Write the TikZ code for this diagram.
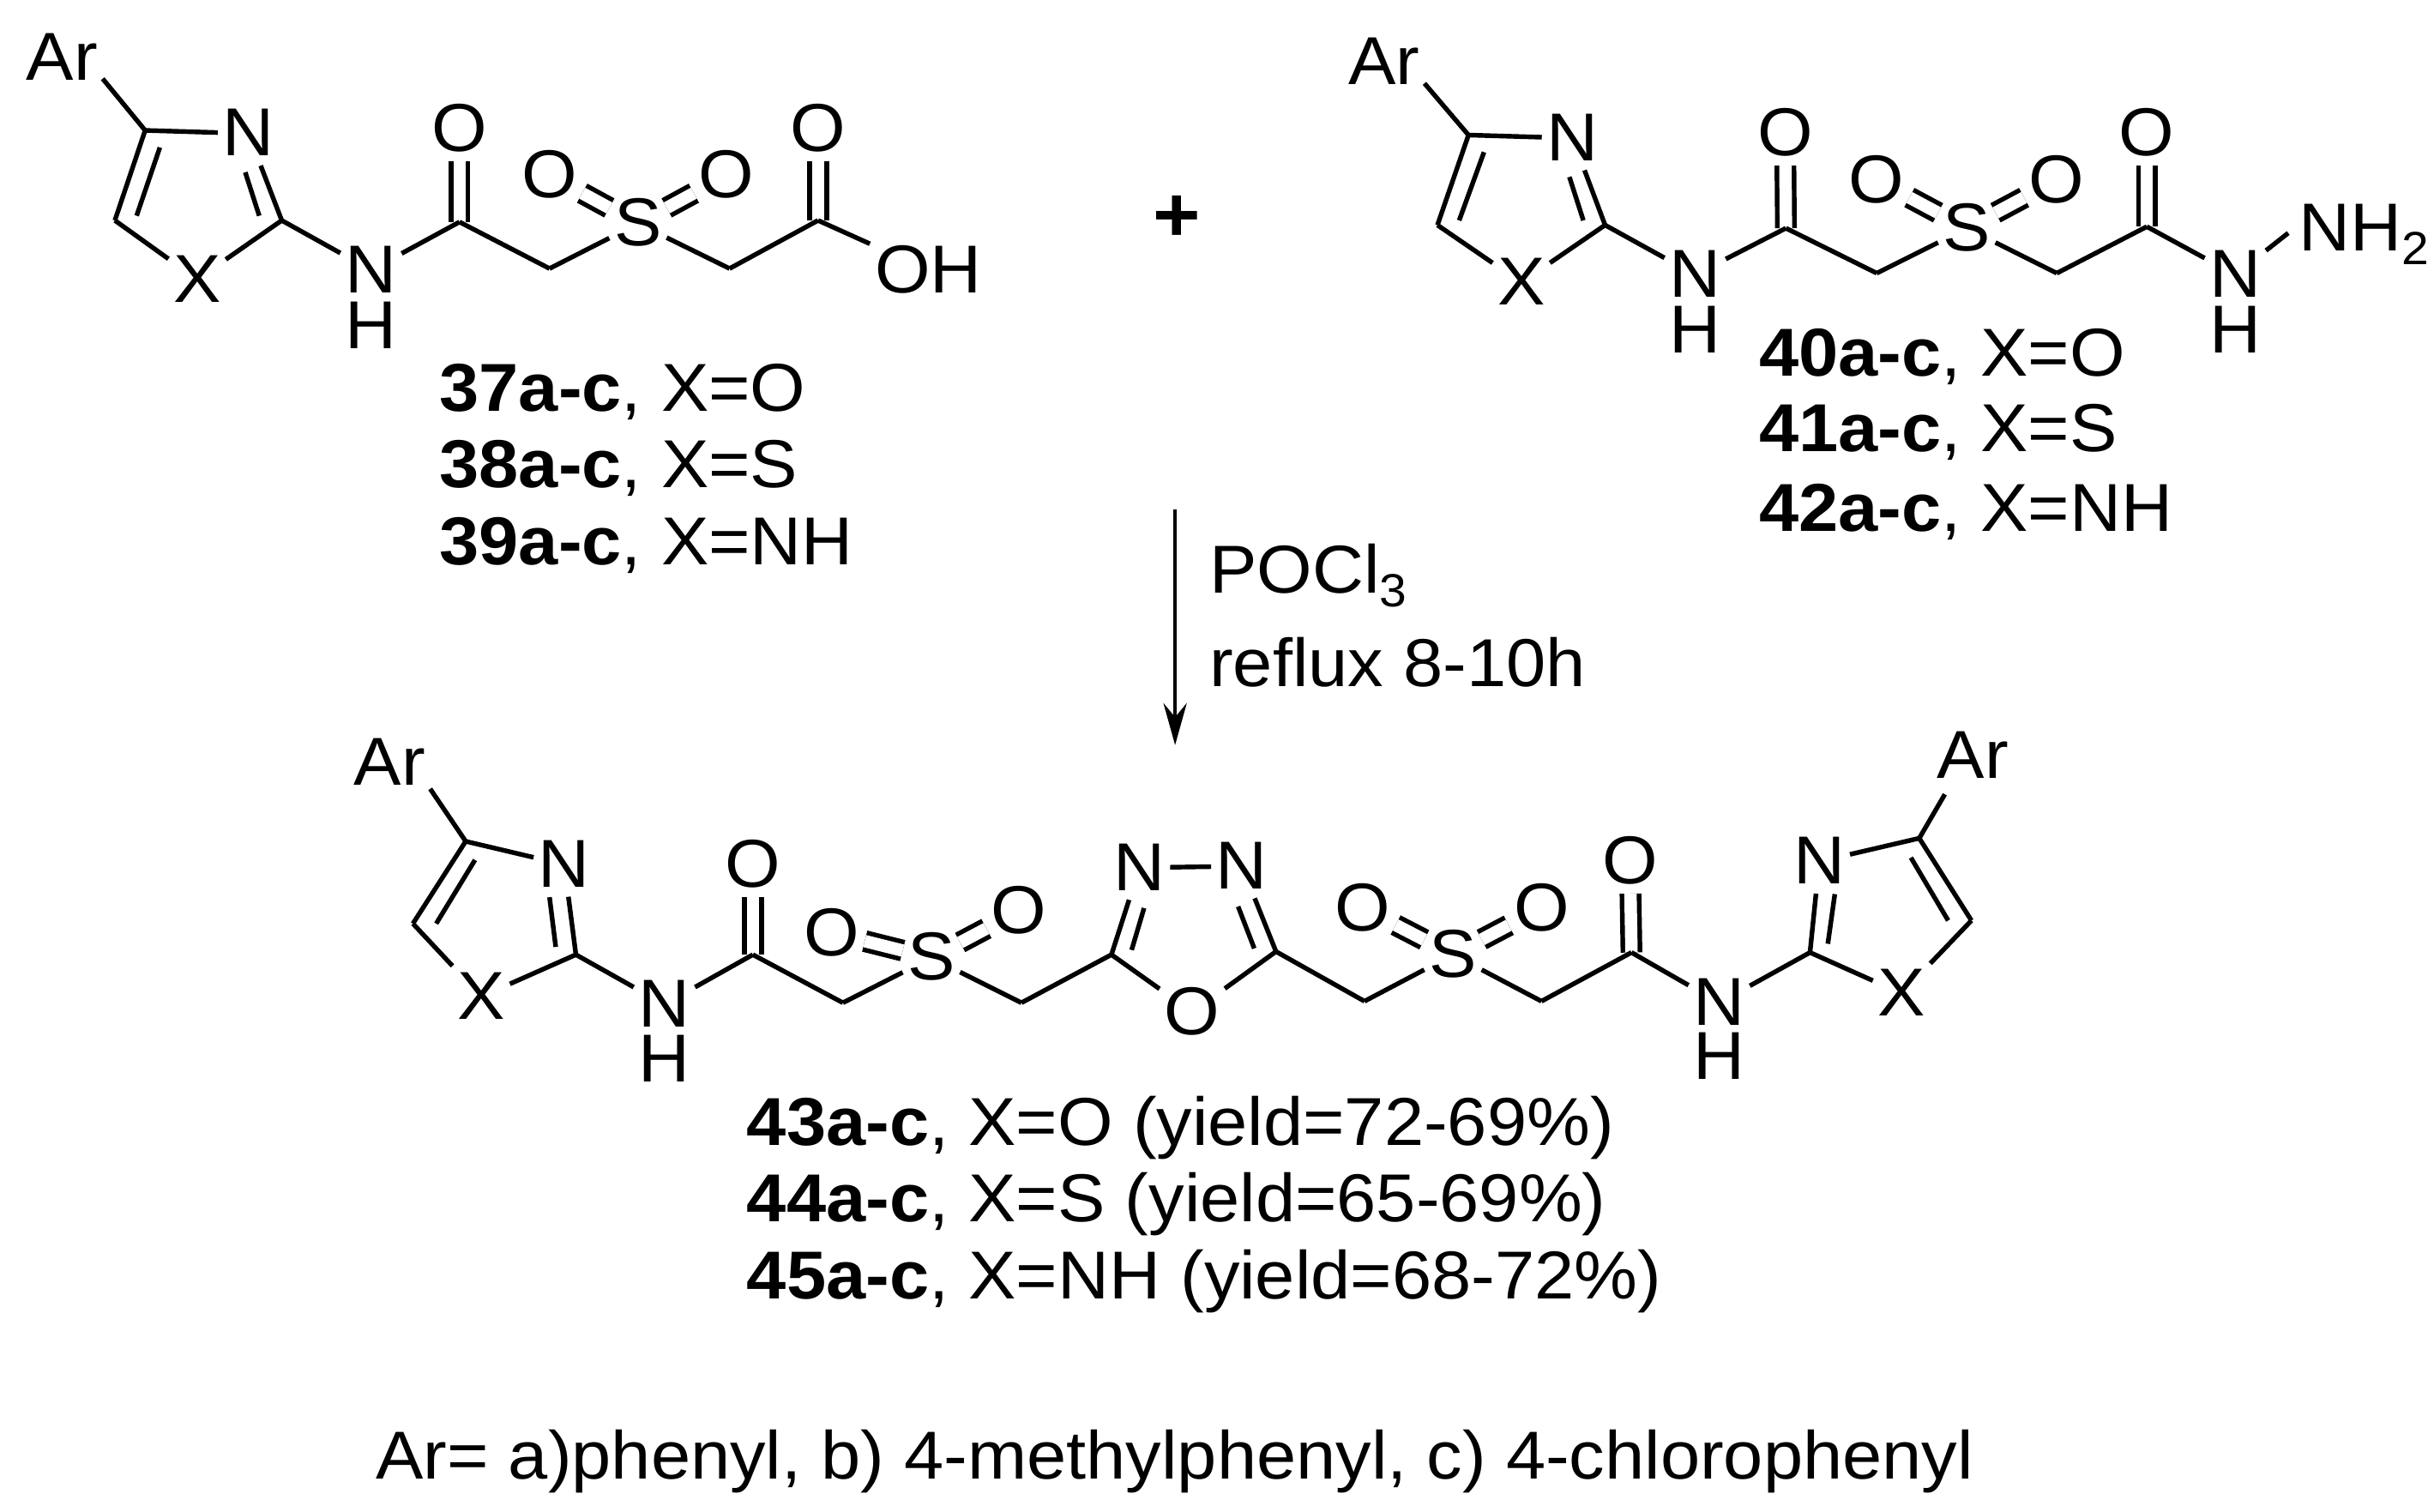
\documentclass[tikz,border=0pt]{standalone}
\usepackage{fontspec}
\setmainfont{Liberation Sans}[FakeStretch=1.05]
\usetikzlibrary{arrows.meta}
\newcommand{\subnum}[1]{\raisebox{-9pt}{\fontsize{30}{30}\selectfont #1}}

\begin{document}
\begin{tikzpicture}[x=1pt, y=-1pt]
    \tikzset{bond/.style={line width=3pt},
             dbl/.style={line width=3pt, double, double distance=8pt},
             atom/.style={inner xsep=3pt, inner ysep=6pt, text height=29pt, text depth=0pt, font=\fontsize{43.7}{43.7}\selectfont},
             hatom/.style={inner sep=0pt, text height=29pt, text depth=0pt, font=\fontsize{43.7}{43.7}\selectfont},
             lab/.style={anchor=base west, inner sep=0pt, font=\fontsize{43.7}{43.7}\selectfont}}
    \useasboundingbox (0,0) rectangle (1568,974);

    % 37-39
    \coordinate (c4a) at (93.5,84);
    \coordinate (c5a) at (74,142);
    \coordinate (c2a) at (181.5,142);
    \coordinate (coa) at (296,143);
    \coordinate (cha) at (354,173);
    \coordinate (cga) at (470,173);
    \coordinate (cob) at (527,142);
    \coordinate (c4ai) at (103,95);
    \coordinate (c5ai) at (88,139);
    \coordinate (c2ai) at (167,139);
    \coordinate (n1ai) at (158,111);
    \node[atom] (ara) at (40,37) {Ar};
    \node[atom] (n1a) at (160,86) {N};
    \node[atom] (xa) at (127,180) {X};
    \node[atom] (nha) at (239,174) {N};
    \node[hatom] (ha) at (239,210) {H};
    \node[atom] (oa) at (296,83) {O};
    \node[atom] (sa) at (411,144) {S};
    \node[atom] (ola) at (354,113) {O};
    \node[atom] (ora) at (468,113) {O};
    \node[atom] (ob) at (527,83) {O};
    \node[atom] (oh) at (598,174) {OH};
    \draw[dbl] (coa) -- (oa);
    \draw[dbl] (cob) -- (ob);
    \draw[dbl] (sa) -- (ola);
    \draw[dbl] (sa) -- (ora);
    \draw[bond] (c4a) -- ([yshift=7pt]ara.south east);
    \draw[bond] (c4a) -- (n1a);
    \draw[bond] (c4a) -- (c5a);
    \draw[bond] (c4ai) -- (c5ai);
    \draw[bond] (c5a) -- (xa);
    \draw[bond] (xa) -- (c2a);
    \draw[bond] (c2a) -- (n1a);
    \draw[bond] (c2ai) -- (n1ai);
    \draw[bond] (c2a) -- (nha);
    \draw[bond] (nha) -- (coa);
    \draw[bond] (coa) -- (cha);
    \draw[bond] (cha) -- (sa);
    \draw[bond] (sa) -- (cga);
    \draw[bond] (cga) -- (cob);
    \draw[bond] (cob) -- (oh);
    \node[lab] (l37) at (283,265) {\textbf{37a-c}, X=O};
    \node[lab] (l38) at (283,314) {\textbf{38a-c}, X=S};
    \node[lab] (l39) at (283,364) {\textbf{39a-c}, X=NH};

    \node[atom, font=\fontsize{50}{50}\bfseries\selectfont] (plus) at (758,141) {+};

    % 40-42
    \coordinate (c4c) at (946,87);
    \coordinate (c5c) at (926,145);
    \coordinate (c2c) at (1034,145);
    \coordinate (coc) at (1150.5,147);
    \coordinate (chc) at (1209,176);
    \coordinate (cgc) at (1325,176);
    \coordinate (cod) at (1383,146);
    \coordinate (c4ci) at (956,98);
    \coordinate (c5ci) at (940,142);
    \coordinate (c2ci) at (1020,142);
    \coordinate (n1ci) at (1011,114);
    \node[atom] (arc) at (891.5,40) {Ar};
    \node[atom] (n1c) at (1013,89) {N};
    \node[atom] (xc) at (980,182) {X};
    \node[atom] (nhc) at (1092,177) {N};
    \node[hatom] (hc) at (1092,213) {H};
    \node[atom] (oc) at (1150,86) {O};
    \node[atom] (sc) at (1267,147) {S};
    \node[atom] (olc) at (1209,116) {O};
    \node[atom] (orc) at (1325,116) {O};
    \node[atom] (od) at (1383,86) {O};
    \node[atom] (nhd) at (1440,177) {N};
    \node[hatom] (hd) at (1440,213) {H};
    \node[atom, anchor=west] (nh2) at (1478,147) {NH\subnum{2}};
    \draw[dbl] (coc) -- (oc);
    \draw[dbl] (cod) -- (od);
    \draw[dbl] (sc) -- (olc);
    \draw[dbl] (sc) -- (orc);
    \draw[bond] (c4c) -- ([yshift=7pt]arc.south east);
    \draw[bond] (c4c) -- (n1c);
    \draw[bond] (c4c) -- (c5c);
    \draw[bond] (c4ci) -- (c5ci);
    \draw[bond] (c5c) -- (xc);
    \draw[bond] (xc) -- (c2c);
    \draw[bond] (c2c) -- (n1c);
    \draw[bond] (c2ci) -- (n1ci);
    \draw[bond] (c2c) -- (nhc);
    \draw[bond] (nhc) -- (coc);
    \draw[bond] (coc) -- (chc);
    \draw[bond] (chc) -- (sc);
    \draw[bond] (sc) -- (cgc);
    \draw[bond] (cgc) -- (cod);
    \draw[bond] (cod) -- (nhd);
    \draw[bond, shorten >=5pt] (nhd) -- (nh2.west);
    \node[lab] (l40) at (1133,242) {\textbf{40a-c}, X=O};
    \node[lab] (l41) at (1133,291) {\textbf{41a-c}, X=S};
    \node[lab] (l42) at (1133,342) {\textbf{42a-c}, X=NH};

    % arrow
    \coordinate (arrtop) at (757,328);
    \coordinate (arrend) at (757,480);
    \draw[line width=2.4pt, -{Stealth[length=27pt, width=15pt, inset=9pt]}] (arrtop) -- (arrend);
    \node[lab] (pocl) at (779,382) {POCl\subnum{3}};
    \node[lab] (reflux) at (779,442) {reflux 8-10h};

    % 43-45
    \coordinate (c4e) at (300,542);
    \coordinate (c5e) at (266,595);
    \coordinate (c2e) at (371,615);
    \coordinate (coe) at (485,615);
    \coordinate (che) at (543,646);
    \coordinate (cge) at (658,646);
    \coordinate (cal) at (716,615);
    \coordinate (car) at (822,613);
    \coordinate (chf) at (879,645);
    \coordinate (cgf) at (993,645);
    \coordinate (cof) at (1051,613.6);
    \coordinate (c2f) at (1166,613.6);
    \coordinate (c4f) at (1236.4,540);
    \coordinate (c5f) at (1270,593);
    \coordinate (c4ei) at (306,554);
    \coordinate (c5ei) at (281,595);
    \coordinate (c2ei) at (358,610);
    \coordinate (n1ei) at (354,578);
    \coordinate (cali) at (729,612);
    \coordinate (nali) at (737,585);
    \coordinate (cari) at (808,611);
    \coordinate (nari) at (797.6,584);
    \coordinate (c2fi) at (1177.5,608);
    \coordinate (n1fi) at (1182,576);
    \coordinate (c5fi) at (1255,593);
    \coordinate (c4fi) at (1231,552.5);
    \node[atom] (are) at (251,491.5) {Ar};
    \node[atom] (n1e) at (363.5,557) {N};
    \node[atom] (xe) at (310,642) {X};
    \node[atom] (nhe) at (428,647) {N};
    \node[hatom] (he) at (428,682.5) {H};
    \node[atom] (oe) at (485,557) {O};
    \node[atom] (se) at (600,617) {S};
    \node[atom] (ole) at (536,601) {O};
    \node[atom] (ore) at (656.5,587) {O};
    \node[atom] (nal) at (734,559) {N};
    \node[atom] (nar) at (800,558) {N};
    \node[atom] (omid) at (768,652) {O};
    \node[atom] (sf) at (936,615) {S};
    \node[atom] (olf) at (878,585) {O};
    \node[atom] (orf) at (993,585) {O};
    \node[atom] (of) at (1050,555) {O};
    \node[atom] (nhf) at (1107.5,646) {N};
    \node[hatom] (hf) at (1107.5,681) {H};
    \node[atom] (n1f) at (1172,555) {N};
    \node[atom] (xf) at (1225,640) {X};
    \node[atom] (arf) at (1271,487) {Ar};
    \draw[dbl] (coe) -- (oe);
    \draw[dbl] (cof) -- (of);
    \draw[dbl] (se) -- (ole);
    \draw[dbl] (se) -- (ore);
    \draw[dbl] (sf) -- (olf);
    \draw[dbl] (sf) -- (orf);
    \draw[bond] (c4e) -- ([yshift=4pt]are.south east);
    \draw[bond] (c4e) -- (n1e);
    \draw[bond] (c4e) -- (c5e);
    \draw[bond] (c4ei) -- (c5ei);
    \draw[bond] (c5e) -- (xe);
    \draw[bond] (xe) -- (c2e);
    \draw[bond] (c2e) -- (n1e);
    \draw[bond] (c2ei) -- (n1ei);
    \draw[bond] (c2e) -- (nhe);
    \draw[bond] (nhe) -- (coe);
    \draw[bond] (coe) -- (che);
    \draw[bond] (che) -- (se);
    \draw[bond] (se) -- (cge);
    \draw[bond] (cge) -- (cal);
    \draw[bond] (cal) -- (nal);
    \draw[bond] (cali) -- (nali);
    \draw[bond] (nal) -- (nar);
    \draw[bond] (nar) -- (car);
    \draw[bond] (nari) -- (cari);
    \draw[bond] (cal) -- (omid);
    \draw[bond] (omid) -- (car);
    \draw[bond] (car) -- (chf);
    \draw[bond] (chf) -- (sf);
    \draw[bond] (sf) -- (cgf);
    \draw[bond] (cgf) -- (cof);
    \draw[bond] (cof) -- (nhf);
    \draw[bond] (nhf) -- (c2f);
    \draw[bond] (c2f) -- (n1f);
    \draw[bond] (c2fi) -- (n1fi);
    \draw[bond] (c2f) -- (xf);
    \draw[bond] (xf) -- (c5f);
    \draw[bond] (c5f) -- (c4f);
    \draw[bond] (c5fi) -- (c4fi);
    \draw[bond] (n1f) -- (c4f);
    \draw[bond] (c4f) -- ([xshift=8pt,yshift=-4pt]arf.south west);
    \node[lab] (l43) at (481,738) {\textbf{43a-c}, X=O (yield=72-69\%)};
    \node[lab] (l44) at (481,787) {\textbf{44a-c}, X=S (yield=65-69\%)};
    \node[lab] (l45) at (481,837) {\textbf{45a-c}, X=NH (yield=68-72\%)};

    \node[lab] (arnote) at (242,953) {Ar= a)phenyl, b) 4-methylphenyl, c) 4-chlorophenyl};
\end{tikzpicture}
\end{document}
